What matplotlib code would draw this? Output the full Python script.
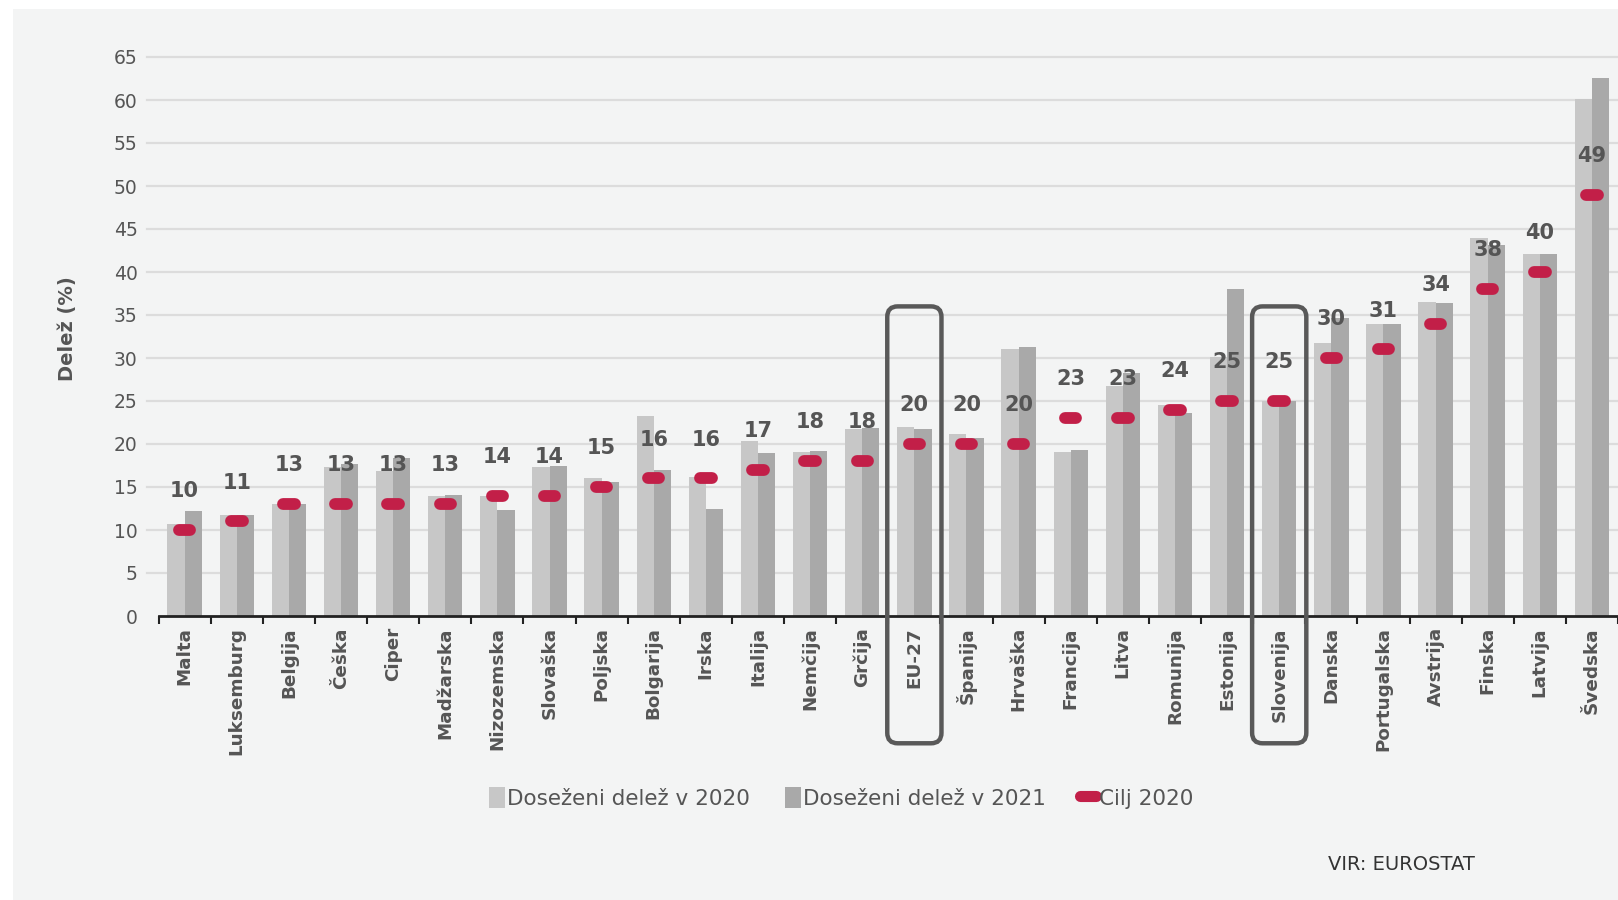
import matplotlib

matplotlib.use("Agg")
import matplotlib.pyplot as plt
import numpy as np
from matplotlib.lines import Line2D
from matplotlib.patches import FancyBboxPatch, Patch, Rectangle

plt.rcParams["font.family"] = ["DejaVu Sans"]

countries = [
    "Malta", "Luksemburg", "Belgija", "Češka", "Ciper", "Madžarska", "Nizozemska",
    "Slovaška", "Poljska", "Bolgarija", "Irska", "Italija", "Nemčija", "Grčija",
    "EU-27", "Španija", "Hrvaška", "Francija", "Litva", "Romunija", "Estonija",
    "Slovenija", "Danska", "Portugalska", "Avstrija", "Finska", "Latvija", "Švedska",
]
share_2020 = [10.7, 11.7, 13.0, 17.3, 16.9, 13.9, 14.0, 17.3, 16.1, 23.3, 16.2, 20.4, 19.1, 21.7,
              22.0, 21.2, 31.0, 19.1, 26.8, 24.5, 30.1, 25.0, 31.7, 34.0, 36.5, 43.9, 42.1, 60.1]
share_2021 = [12.2, 11.7, 13.0, 17.7, 18.4, 14.1, 12.3, 17.4, 15.6, 17.0, 12.5, 19.0, 19.2, 21.9,
              21.8, 20.7, 31.3, 19.3, 28.2, 23.6, 38.0, 25.0, 34.7, 34.0, 36.4, 43.1, 42.1, 62.6]
target_2020 = [10, 11, 13, 13, 13, 13, 14, 14, 15, 16, 16, 17, 18, 18,
               20, 20, 20, 23, 23, 24, 25, 25, 30, 31, 34, 38, 40, 49]
highlighted = ["EU-27", "Slovenija"]
yticks = list(range(0, 70, 5))

c_2020 = "#c7c7c7"
c_2021 = "#a9a9a9"
c_target = "#c21f48"
c_text = "#555555"

fig = plt.figure(figsize=(16.18, 9), dpi=100)
fig.patch.set_facecolor("white")
# light panel behind the whole chart
fig.add_artist(Rectangle((13 / 1618, 0), 1, 1 - 9 / 900, transform=fig.transFigure,
                         facecolor="#f3f4f4", edgecolor="none", zorder=0))

ax = fig.add_axes([158.6 / 1618, 1 - 616 / 900, 1 - 158.6 / 1618, (616 - 52.7) / 900])
ax.set_facecolor("none")

x = np.arange(len(countries))
width = 0.33

for yv in yticks[1:]:
    ax.axhline(yv, xmin=-0.008, xmax=1, color="#dcdcdc", lw=1.6, zorder=0, clip_on=False)

ax.bar(x - width / 2, share_2020, width, color=c_2020, zorder=2, label="Doseženi delež v 2020")
ax.bar(x + width / 2, share_2021, width, color=c_2021, zorder=2, label="Doseženi delež v 2021")

ax.hlines(target_2020, x - 0.11, x + 0.11, color=c_target, lw=8.5, capstyle="round", zorder=4)

for xi, t in zip(x, target_2020):
    ax.annotate(f"{t}", (xi, t), xytext=(0, 28), textcoords="offset points",
                ha="center", va="center", fontsize=15, fontweight="bold", color=c_text, zorder=6)

# rounded frames around EU-27 and Slovenia
for name in highlighted:
    i = countries.index(name)
    box = FancyBboxPatch((i - 0.52, -14.8), 1.04, 36 + 14.8,
                         boxstyle="round,pad=0,rounding_size=0.2", mutation_aspect=52.27 / 8.6,
                         fill=False, edgecolor="#595959", lw=3.2, clip_on=False, zorder=7)
    ax.add_patch(box)

ax.set_xlim(-0.5, 27.42)
ax.set_ylim(0, 65.5)

ax.set_yticks(yticks)
ax.tick_params(axis="y", length=0, pad=15, labelsize=13.5, labelcolor=c_text)

ax.set_xticks(np.arange(-0.5, len(countries), 1))
ax.set_xticklabels([])
ax.set_xticks(x, minor=True)
ax.set_xticklabels(countries, minor=True, rotation=90, fontsize=13.2, fontweight="bold", color=c_text)
ax.tick_params(axis="x", which="major", length=6, width=1.5, color="#222222", direction="out")
ax.tick_params(axis="x", which="minor", length=0, pad=8)

for side in ["left", "right", "top"]:
    ax.spines[side].set_visible(False)
ax.spines["bottom"].set_linewidth(2)
ax.spines["bottom"].set_color("#222222")

fig.text(68 / 1618, 1 - 329 / 900, "Delež (%)", rotation=90, ha="center", va="center",
         fontsize=14, fontweight="bold", color=c_text)

handles = [
    Patch(facecolor=c_2020, edgecolor="none"),
    Patch(facecolor=c_2021, edgecolor="none"),
    Line2D([], [], color=c_target, lw=8, solid_capstyle="round"),
]
labels = ["Doseženi delež v 2020", "Doseženi delež v 2021", "Cilj 2020"]
leg = fig.legend(handles, labels, loc="center", bbox_to_anchor=(841 / 1618, 1 - 798 / 900),
                 ncol=3, frameon=False, fontsize=15.5, handlelength=0.75, handleheight=1.1,
                 handletextpad=0.1, columnspacing=1.6)
for txt in leg.get_texts():
    txt.set_color(c_text)

fig.text(1328 / 1618, 1 - 864 / 900, "VIR: EUROSTAT", ha="left", va="center",
         fontsize=14, color="#333333")

fig.savefig("out.png", dpi=100)
